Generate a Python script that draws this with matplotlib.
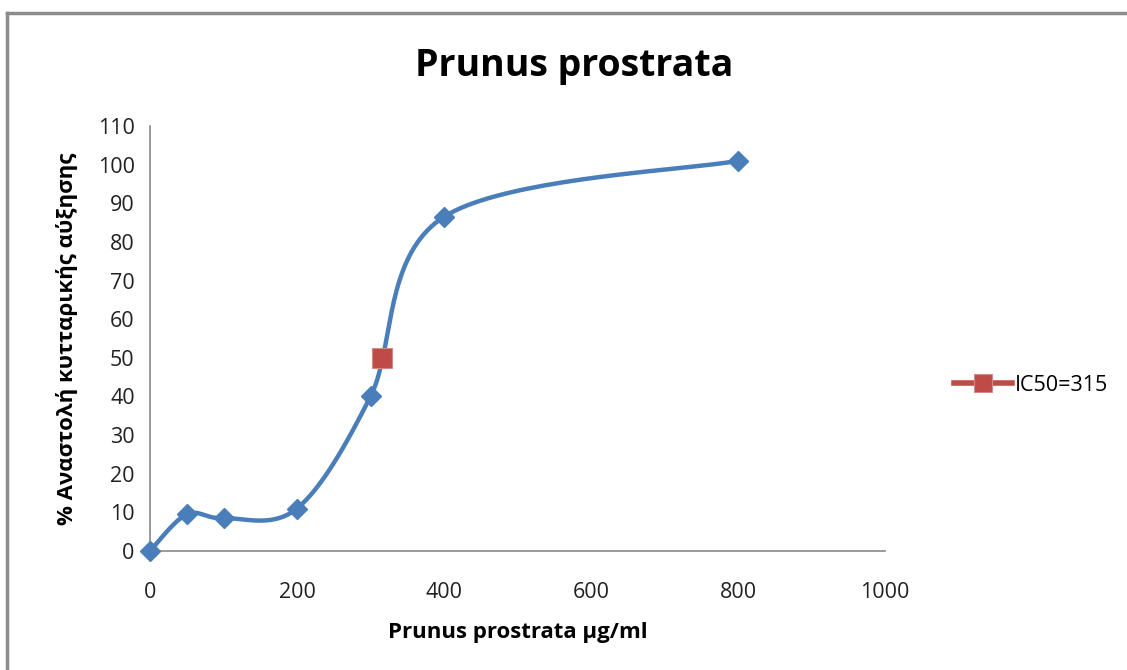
import matplotlib
matplotlib.use('Agg')
import matplotlib.pyplot as plt
import numpy as np
from matplotlib.lines import Line2D

# === Data ===
conc = [0, 50, 100, 200, 300, 400, 800]
inhib = [0, 9.5, 8.5, 11, 40, 86.5, 101]
ic50_x = [315]
ic50_y = [50]
ic50_label = 'IC50=315'

title = 'Prunus prostrata'
xlabel = 'Prunus prostrata μg/ml'
ylabel = '% Αναστολή κυτταρικής αύξησης'

fonts = ['Open Sans', 'Noto Sans', 'DejaVu Sans']
plt.rcParams['font.family'] = fonts

blue = '#4a7ebb'
red = '#be4b48'


# === Excel-like smoothed line (cubic Bezier, Catmull-Rom control points) ===
def excel_smooth(xs, ys, n=40):
    p = np.column_stack([xs, ys]).astype(float)
    out = [p[0]]
    for i in range(len(p) - 1):
        p0 = p[i - 1] if i > 0 else p[i]
        p1, p2 = p[i], p[i + 1]
        p3 = p[i + 2] if i + 2 < len(p) else p[i + 1]
        c1 = p1 + (p2 - p0) / 6
        c2 = p2 - (p3 - p1) / 6
        t = np.linspace(0, 1, n)[1:, None]
        seg = ((1 - t) ** 3) * p1 + 3 * ((1 - t) ** 2) * t * c1 + 3 * (1 - t) * t ** 2 * c2 + t ** 3 * p2
        out.extend(seg)
    out = np.array(out)
    return out[:, 0], out[:, 1]


fig = plt.figure(figsize=(11.27, 6.7), dpi=100)
ax = fig.add_axes([150 / 1127, 1 - 551 / 670, 735 / 1127, 425 / 670])

sx, sy = excel_smooth(conc, inhib)
ax.plot(sx, sy, color=blue, lw=3.2, solid_capstyle='round', zorder=2)
ax.plot(conc, inhib, ls='none', marker='D', ms=10, color=blue,
        markeredgecolor=blue, zorder=3, clip_on=False)
ax.plot(ic50_x, ic50_y, ls='-', lw=4, marker='s', ms=14, color=red,
        markeredgecolor='#d08a88', markeredgewidth=0.8, zorder=4,
        clip_on=False, label=ic50_label)

ax.set_xlim(0, 1000)
ax.set_ylim(0, 110)
ax.set_xticks(range(0, 1001, 200))
ax.set_yticks(range(0, 111, 10))
ax.tick_params(axis='both', length=0, labelsize=15.5, colors='#222222')
ax.tick_params(axis='y', pad=11)
ax.tick_params(axis='x', pad=22)

for s in ['top', 'right']:
    ax.spines[s].set_visible(False)
for s in ['left', 'bottom']:
    ax.spines[s].set_color('#888888')
    ax.spines[s].set_linewidth(1.2)

ax.set_xlabel(xlabel, fontsize=16, fontweight='bold', labelpad=14)
ax.set_ylabel(ylabel, fontsize=16, fontweight='bold', labelpad=14)
fig.text(574 / 1127, 1 - 66 / 670, title, ha='center', va='center',
         fontsize=27, fontweight='bold')

leg = ax.legend(loc='center left', bbox_to_anchor=(1.068, 0.39), frameon=False,
                fontsize=15.5, handlelength=2.7, handletextpad=0.1,
                markerscale=0.95)

# outer frame (chart area border)
fig.add_artist(Line2D([7 / 1127, 7 / 1127], [0, 1 - 13 / 670],
                      transform=fig.transFigure, color='#8c8c8c', lw=2.5))
fig.add_artist(Line2D([7 / 1127, 1], [1 - 13 / 670, 1 - 13 / 670],
                      transform=fig.transFigure, color='#8c8c8c', lw=2.5))

fig.savefig('out.png', dpi=100)
